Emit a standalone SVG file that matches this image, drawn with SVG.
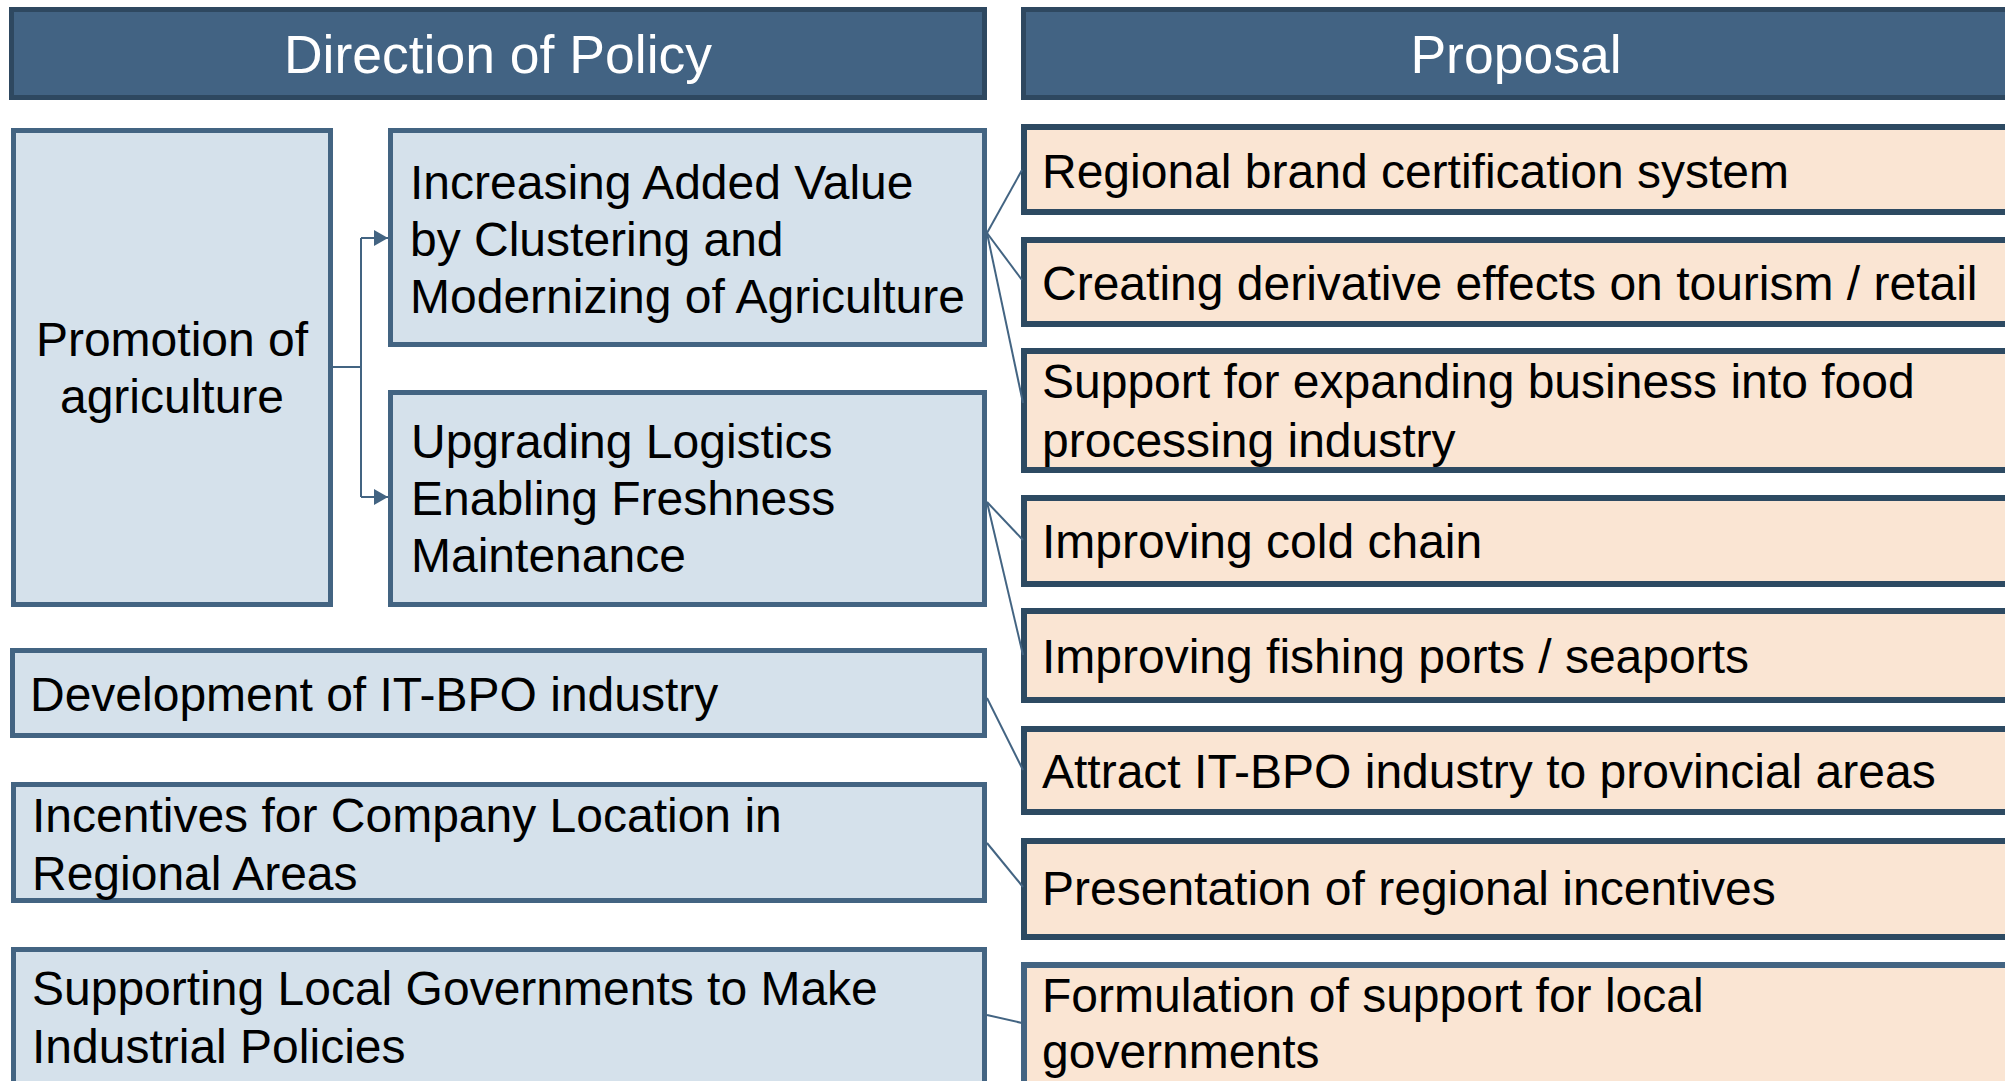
<svg xmlns="http://www.w3.org/2000/svg" width="2005" height="1081" viewBox="0 0 2005 1081">
<defs>
<style>
.hdr{fill:#426383;stroke:#2e4860;stroke-width:5}
.pol{fill:#d5e1eb;stroke:#436482;stroke-width:5}
.pro{fill:#fae5d3;stroke:#2d4a62;stroke-width:6}
.pro2{fill:#fae5d3;stroke:#436482;stroke-width:6}
.ht{font-family:"Liberation Sans",Arial,sans-serif;font-size:53.5px;fill:#ffffff;text-anchor:middle}
.t{font-family:"Liberation Sans",Arial,sans-serif;font-size:48px;fill:#000000}
.tc{font-family:"Liberation Sans",Arial,sans-serif;font-size:48px;fill:#000000;text-anchor:middle}
.c{fill:none;stroke:#436482;stroke-width:2}
</style>
<marker id="arr" markerUnits="userSpaceOnUse" markerWidth="14" markerHeight="16" refX="14" refY="8" orient="auto">
<path d="M0,0 L14,8 L0,16 Z" fill="#436482"/>
</marker>
</defs>
<rect width="2005" height="1081" fill="#ffffff"/>
<g id="header-policy"><rect class="hdr" x="11.5" y="9.5" width="973" height="88"/><text class="ht" x="498" y="73">Direction of Policy</text></g>
<g id="header-proposal"><rect class="hdr" x="1023.5" y="9.5" width="1000" height="88"/><text class="ht" x="1516" y="73">Proposal</text></g>

<g id="promotion"><rect class="pol" x="13.5" y="130.5" width="317" height="474"/><text class="tc" x="172" y="356">Promotion of</text><text class="tc" x="172" y="413">agriculture</text></g>
<g id="increasing"><rect class="pol" x="390.5" y="130.5" width="594" height="214"/><text class="t" x="410" y="199">Increasing Added Value</text><text class="t" x="410" y="256">by Clustering and</text><text class="t" x="410" y="313">Modernizing of Agriculture</text></g>
<g id="upgrading"><rect class="pol" x="390.5" y="392.5" width="594" height="212"/><text class="t" x="411" y="458">Upgrading Logistics</text><text class="t" x="411" y="515">Enabling Freshness</text><text class="t" x="411" y="572">Maintenance</text></g>
<g id="itbpo"><rect class="pol" x="12.5" y="650.5" width="972" height="85"/><text class="t" x="30" y="711">Development of IT-BPO industry</text></g>
<g id="incentives"><rect class="pol" x="13.5" y="784.5" width="971" height="116"/><text class="t" x="32" y="832">Incentives for Company Location in</text><text class="t" x="32" y="890">Regional Areas</text></g>
<g id="supporting"><rect class="pol" x="13.5" y="949.5" width="971" height="160"/><text class="t" x="32" y="1005">Supporting Local Governments to Make</text><text class="t" x="32" y="1063">Industrial Policies</text></g>

<g id="p1"><rect class="pro" x="1024" y="127" width="1000" height="85"/><text class="t" x="1042" y="188">Regional brand certification system</text></g>
<g id="p2"><rect class="pro" x="1024" y="240" width="1000" height="84"/><text class="t" x="1042" y="300">Creating derivative effects on tourism / retail</text></g>
<g id="p3"><rect class="pro" x="1024" y="351" width="1000" height="119"/><text class="t" x="1042" y="398">Support for expanding business into food</text><text class="t" x="1042" y="457">processing industry</text></g>
<g id="p4"><rect class="pro" x="1024" y="498" width="1000" height="86"/><text class="t" x="1042" y="558">Improving cold chain</text></g>
<g id="p5"><rect class="pro" x="1024" y="611" width="1000" height="89"/><text class="t" x="1042" y="673">Improving fishing ports / seaports</text></g>
<g id="p6"><rect class="pro" x="1024" y="729" width="1000" height="83"/><text class="t" x="1042" y="788">Attract IT-BPO industry to provincial areas</text></g>
<g id="p7"><rect class="pro" x="1024" y="841" width="1000" height="96"/><text class="t" x="1042" y="905">Presentation of regional incentives</text></g>
<g id="p8"><rect class="pro2" x="1024" y="965" width="1000" height="150"/><text class="t" x="1042" y="1012">Formulation of support for local</text><text class="t" x="1042" y="1068">governments</text></g>

<g id="connectors">
<path class="c" d="M333,367 H361"/>
<path class="c" d="M361,238 V497"/>
<path class="c" d="M361,238 H388" marker-end="url(#arr)"/>
<path class="c" d="M361,497 H388" marker-end="url(#arr)"/>
<path class="c" d="M987,233 L1022,170"/>
<path class="c" d="M987,233 L1022,280"/>
<path class="c" d="M987,233 L1023,403"/>
<path class="c" d="M987,502 L1023,540"/>
<path class="c" d="M987,502 L1023,655"/>
<path class="c" d="M987,698 L1023,770"/>
<path class="c" d="M987,843 L1023,887"/>
<path class="c" d="M987,1015 L1022,1023"/>
</g>
</svg>
